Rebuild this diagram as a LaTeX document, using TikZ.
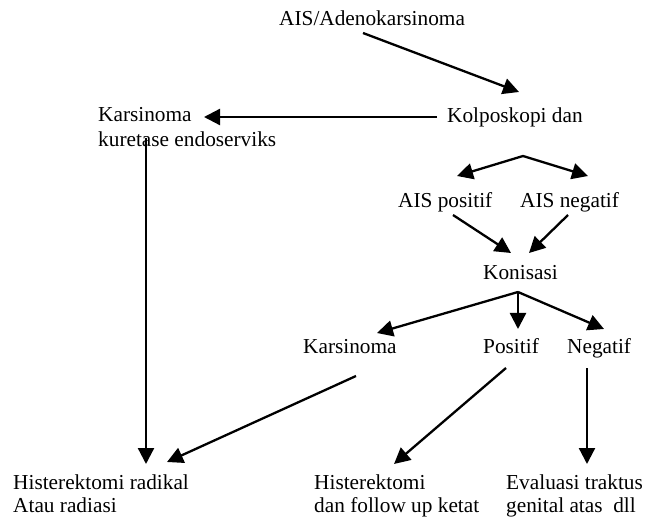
\documentclass[tikz,border=0pt]{standalone}
\usepackage{fontspec}
\setmainfont{Liberation Serif}
\usetikzlibrary{arrows.meta}
\begin{document}
\begin{tikzpicture}[x=1pt,y=-1pt,
  lbl/.style={inner sep=0pt,anchor=base west,align=left,font=\fontsize{21.3}{23}\selectfont},
  arr/.style={line width=2.3pt,-{Triangle[length=16pt,width=16pt]}},
  darr/.style={line width=2.3pt,{Triangle[length=16pt,width=16pt]}-{Triangle[length=16pt,width=16pt]}}]
\useasboundingbox (0,0) rectangle (658,518);
% texts (multi-line nodes: base = baseline of last line)
\node[lbl] (ais) at (279,26) {AIS/Adenokarsinoma};
\node[lbl] (kolp) at (447,123) {Kolposkopi dan};
\node[lbl,font=\fontsize{21.3}{25}\selectfont] (kars1) at (98,147) {Karsinoma\\kuretase endoserviks};
\node[lbl] (aispos) at (398,208) {AIS positif};
\node[lbl] (aisneg) at (520,208) {AIS negatif};
\node[lbl] (kon) at (483,280) {Konisasi};
\node[lbl] (kars2) at (303,353) {Karsinoma};
\node[lbl] (pos) at (483,353) {Positif};
\node[lbl] (neg) at (567,353) {Negatif};
\node[lbl] (hrad) at (13,512) {Histerektomi radikal\\Atau radiasi};
\node[lbl] (hfol) at (314,512) {Histerektomi\\dan follow up ketat};
\node[lbl] (eval) at (506,512) {Evaluasi traktus\\genital atas~ dll};
% connector end points
\coordinate (aisS) at (363,33);
\coordinate (kolpE) at (519,92);
\coordinate (kolpS) at (437,117);
\coordinate (kars1E) at (204,117);
\coordinate (kars1S) at (146,138);
\coordinate (hradE1) at (146,464);
\coordinate (apex) at (523,156);
\coordinate (aisposE) at (457,176);
\coordinate (aisnegE) at (588,176);
\coordinate (aisposS) at (453,215);
\coordinate (aisnegS) at (568,215);
\coordinate (konE1) at (511,253);
\coordinate (konE2) at (529,253);
\coordinate (konS) at (518,292);
\coordinate (kars2E) at (377,333);
\coordinate (posE) at (518,329);
\coordinate (negE) at (604,329);
\coordinate (kars2S) at (356,376);
\coordinate (hradE2) at (167,462);
\coordinate (posS) at (506,368);
\coordinate (hfolE) at (394,464);
\coordinate (negS) at (587,368);
\coordinate (evalE) at (587,464);
% connectors
\draw[arr] (aisS) -- (kolpE);
\draw[arr] (kolpS) -- (kars1E);
\draw[arr] (kars1S) -- (hradE1);
\draw[darr,line join=miter] (aisposE) -- (apex) -- (aisnegE);
\draw[arr] (aisposS) -- (konE1);
\draw[arr] (aisnegS) -- (konE2);
\draw[arr] (konS) -- (kars2E);
\draw[arr] (konS) -- (posE);
\draw[arr] (konS) -- (negE);
\draw[arr] (kars2S) -- (hradE2);
\draw[arr] (posS) -- (hfolE);
\draw[arr] (negS) -- (evalE);
\end{tikzpicture}
\end{document}
